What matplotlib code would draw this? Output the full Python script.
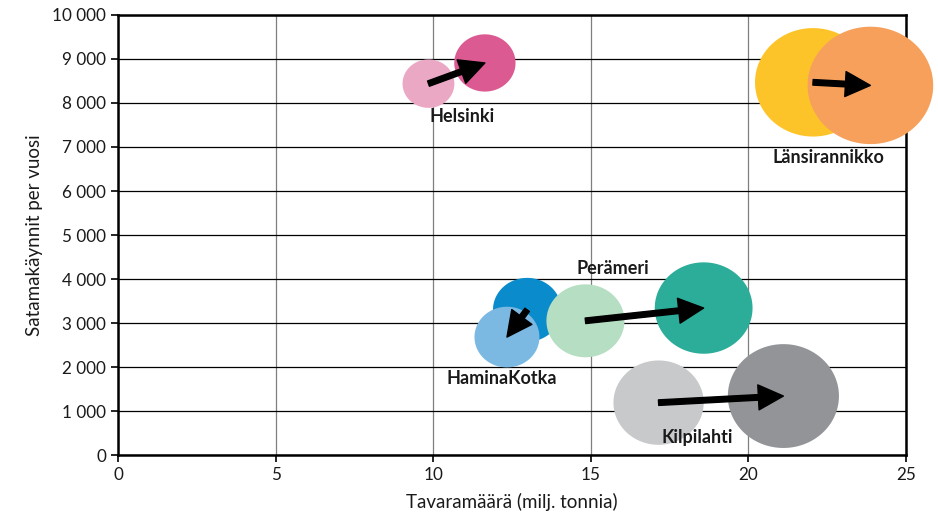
import numpy as np
import matplotlib.pyplot as plt
from matplotlib.path import Path
from matplotlib.ticker import FuncFormatter

plt.rcParams['font.family'] = ['Lato', 'DejaVu Sans']

# port areas: cargo volume (milj. tonnia) and port calls per year, earlier -> later
ports = ['Helsinki', 'Länsirannikko', 'HaminaKotka', 'Perämeri', 'Kilpilahti']
tonnes_old = [9.85, 22.05, 12.98, 14.83, 17.15]
calls_old = [8440, 8470, 3300, 3050, 1190]
tonnes_new = [11.64, 23.87, 12.34, 18.58, 21.11]
calls_new = [8910, 8400, 2680, 3340, 1340]

colors_old = ['#EBA8C5', '#FDC42A', '#0A8BCB', '#B5DEC3', '#C8C9CB']
colors_new = ['#DB5A91', '#F6A05C', '#7BB8E2', '#2BAD99', '#939498']

# label anchor points
label_x = [10.91, 22.53, 12.18, 15.70, 18.37]
label_y = [7700, 6750, 1750, 4250, 390]

fig = plt.figure(figsize=(9.38, 5.17), dpi=100)
ax = fig.add_axes([0.1258, 0.1199, 0.8401, 0.8511])

# slightly wide ellipse marker, bubble width follows tonnage
t = np.linspace(0, 2 * np.pi, 121)
ell = Path(np.column_stack([np.cos(t), np.sin(t) / 1.07]), closed=True)

def sizes(v):
    return (3.79 * np.asarray(v)) ** 2

ax.scatter(tonnes_old, calls_old, s=sizes(tonnes_old), c=colors_old,
           marker=ell, linewidths=0, zorder=3, clip_on=False)
ax.scatter(tonnes_new, calls_new, s=sizes(tonnes_new), c=colors_new,
           marker=ell, linewidths=0, zorder=4, clip_on=False)

for i in range(len(ports)):
    ax.annotate('', xy=(tonnes_new[i], calls_new[i]),
                xytext=(tonnes_old[i], calls_old[i]),
                arrowprops=dict(facecolor='black', edgecolor='black',
                                width=4, headwidth=18, headlength=18,
                                shrink=0), zorder=5)
    ax.text(label_x[i], label_y[i], ports[i], ha='center', va='center',
            fontsize=13, fontweight='bold', color='#1a1a1a', zorder=6)

ax.set_xlim(0, 25)
ax.set_ylim(0, 10000)
ax.set_xticks(range(0, 26, 5))
ax.set_yticks(range(0, 10001, 1000))
ax.yaxis.set_major_formatter(FuncFormatter(lambda v, p: f'{int(v):,}'.replace(',', ' ')))

ax.grid(axis='y', color='black', lw=0.9, zorder=1)
ax.grid(axis='x', color='#7f7f7f', lw=0.9, zorder=1)
ax.set_axisbelow(True)
for sp in ax.spines.values():
    sp.set_linewidth(1.8)
    sp.set_color('black')
ax.tick_params(axis='both', labelsize=12.3, length=5, width=1.2, color='black',
               labelcolor='#1a1a1a')

ax.set_xlabel('Tavaramäärä (milj. tonnia)', fontsize=13.5, color='#1a1a1a', labelpad=7)
ax.set_ylabel('Satamakäynnit per vuosi', fontsize=13.5, color='#1a1a1a', labelpad=7)

fig.savefig('out.png', dpi=100)
